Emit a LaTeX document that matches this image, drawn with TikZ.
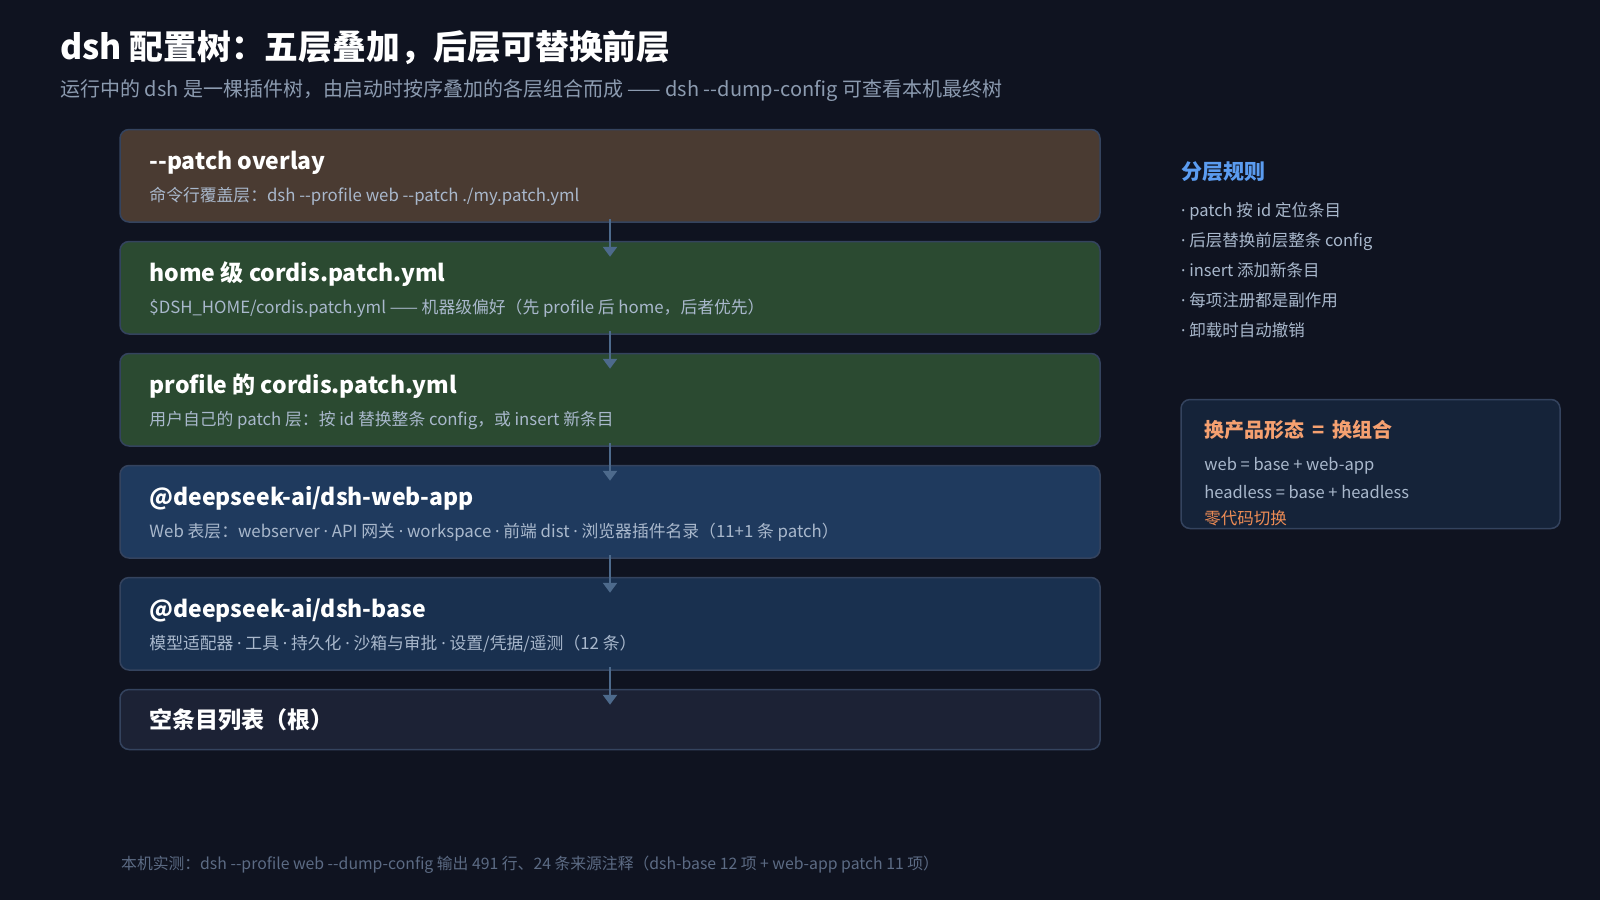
\documentclass[tikz,border=0pt]{standalone}
\usepackage{fontspec}
\setmainfont{Noto Sans CJK SC}
\newfontfamily\latinfont{Noto Sans}
\usetikzlibrary{arrows.meta}
\definecolor{bg}{HTML}{0F1320}
\definecolor{edge}{HTML}{34435E}
\definecolor{fbrown}{HTML}{4A3B32}
\definecolor{fgreen}{HTML}{2B4A31}
\definecolor{fblueA}{HTML}{1F3A5E}
\definecolor{fblueB}{HTML}{19304F}
\definecolor{froot}{HTML}{1C2235}
\definecolor{fpanel}{HTML}{152339}
\definecolor{subtxt}{HTML}{A9B8CC}
\definecolor{gray}{HTML}{8C9BB0}
\definecolor{foot}{HTML}{5C6B84}
\definecolor{arrc}{HTML}{4D6A8C}
\definecolor{hblue}{HTML}{5B9CF0}
\definecolor{horange}{HTML}{F5A070}
\definecolor{lorange}{HTML}{EE8C55}
\newcommand\dashdash{-\kern0pt -}
\newcommand\mdot{{\latinfont ·}}
\begin{document}
\begin{tikzpicture}[x=1pt,y=-1pt,
  layer/.style={draw=edge, line width=1.5pt, rounded corners=9pt, minimum width=980pt, inner sep=0pt},
  ttl/.style={anchor=west, inner sep=0pt, text height=0.82em, text depth=0.22em, text=white, font=\fontsize{23}{26}\selectfont\bfseries},
  sub/.style={anchor=west, inner sep=0pt, text height=0.82em, text depth=0.22em, text=subtxt, font=\fontsize{16.8}{19}\selectfont},
  arr/.style={draw=arrc, line width=2.5pt, -{Triangle[width=14pt,length=10pt]}},
  item/.style={anchor=west, inner sep=0pt, text height=0.82em, text depth=0.22em, text=subtxt, font=\fontsize{16.5}{19}\selectfont},
]
\fill[bg] (0,0) rectangle (1600,900);
\useasboundingbox (0,0) rectangle (1600,900);

% header
\node[anchor=west, inner sep=0pt, text=white, font=\fontsize{33.8}{38}\selectfont\bfseries] (title) at (60,48) {dsh 配置树：五层叠加，后层可替换前层};
\node[anchor=west, inner sep=0pt, text=gray, font=\fontsize{20}{23}\selectfont] (subtitle) at (60,91) {运行中的 dsh 是一棵插件树，由启动时按序叠加的各层组合而成 —— dsh \dashdash dump-config 可查看本机最终树};

% layers
\node[layer, fill=fbrown, minimum height=92.5pt] (b1) at (610,175.75) {};
\node[layer, fill=fgreen, minimum height=92.5pt] (b2) at (610,287.75) {};
\node[layer, fill=fgreen, minimum height=92.5pt] (b3) at (610,399.75) {};
\node[layer, fill=fblueA, minimum height=92.5pt] (b4) at (610,511.75) {};
\node[layer, fill=fblueB, minimum height=92.5pt] (b5) at (610,623.75) {};
\node[layer, fill=froot, minimum height=60pt] (b6) at (610,719.5) {};

\node[ttl] (t1) at ([xshift=30pt,yshift=-38pt]b1.north west) {\dashdash patch overlay};
\node[sub] (s1) at ([xshift=30pt,yshift=-69.5pt]b1.north west) {命令行覆盖层：dsh \dashdash profile web \dashdash patch ./my.patch.yml};
\node[ttl] (t2) at ([xshift=30pt,yshift=-38pt]b2.north west) {home 级 cordis.patch.yml};
\node[sub] (s2) at ([xshift=30pt,yshift=-69.5pt]b2.north west) {\$DSH\_HOME/cordis.patch.yml —— 机器级偏好（先 profile 后 home，后者优先）};
\node[ttl] (t3) at ([xshift=30pt,yshift=-38pt]b3.north west) {profile 的 cordis.patch.yml};
\node[sub] (s3) at ([xshift=30pt,yshift=-69.5pt]b3.north west) {用户自己的 patch 层：按 id 替换整条 config，或 insert 新条目};
\node[ttl] (t4) at ([xshift=30pt,yshift=-38pt]b4.north west) {@deepseek-ai/dsh-web-app};
\node[sub] (s4) at ([xshift=30pt,yshift=-69.5pt]b4.north west) {Web 表层：webserver \mdot{} API 网关 \mdot{} workspace \mdot{} 前端 dist \mdot{} 浏览器插件名录（11+1 条 patch）};
\node[ttl] (t5) at ([xshift=30pt,yshift=-38pt]b5.north west) {@deepseek-ai/dsh-base};
\node[sub] (s5) at ([xshift=30pt,yshift=-69.5pt]b5.north west) {模型适配器 \mdot{} 工具 \mdot{} 持久化 \mdot{} 沙箱与审批 \mdot{} 设置/凭据/遥测（12 条）};
\node[ttl] (t6) at ([xshift=30pt,yshift=-6pt]b6.west) {空条目列表（根）};

% arrows
\foreach \a/\b in {b1/b2,b2/b3,b3/b4,b4/b5,b5/b6}
  \draw[arr] ([yshift=4pt]\a.south) -- ([yshift=-16pt]\b.north);

% right rules
\node[anchor=west, inner sep=0pt, text=hblue, font=\fontsize{21}{24}\selectfont\bfseries] (rh) at (1181,171.5) {分层规则};
\node[item] (r1) at (1181,213) {\mdot{} patch 按 id 定位条目};
\node[item] (r2) at (1181,243) {\mdot{} 后层替换前层整条 config};
\node[item] (r3) at (1181,273) {\mdot{} insert 添加新条目};
\node[item] (r4) at (1181,303) {\mdot{} 每项注册都是副作用};
\node[item] (r5) at (1181,333) {\mdot{} 卸载时自动撤销};

% right panel
\node[draw=edge, line width=1.5pt, rounded corners=9pt, fill=fpanel, minimum width=379pt, minimum height=129pt, inner sep=0pt] (panel) at (1370.5,464) {};
\node[anchor=west, inner sep=0pt, text=horange, font=\fontsize{20}{23}\selectfont\bfseries] (ph) at ([xshift=24pt,yshift=-31pt]panel.north west) {换产品形态 \,=\, 换组合};
\node[item] (p1) at ([xshift=24pt,yshift=-69pt]panel.north west) {web = base + web-app};
\node[item] (p2) at ([xshift=24pt,yshift=-97pt]panel.north west) {headless = base + headless};
\node[item, text=lorange] (p3) at ([xshift=24pt,yshift=-123pt]panel.north west) {零代码切换};

% footer
\node[anchor=west, inner sep=0pt, text=foot, font=\fontsize{15.8}{18}\selectfont] (footer) at (121,865) {本机实测：dsh \dashdash profile web \dashdash dump-config 输出 491 行、24 条来源注释（dsh-base 12 项 + web-app patch 11 项）};
\end{tikzpicture}
\end{document}
